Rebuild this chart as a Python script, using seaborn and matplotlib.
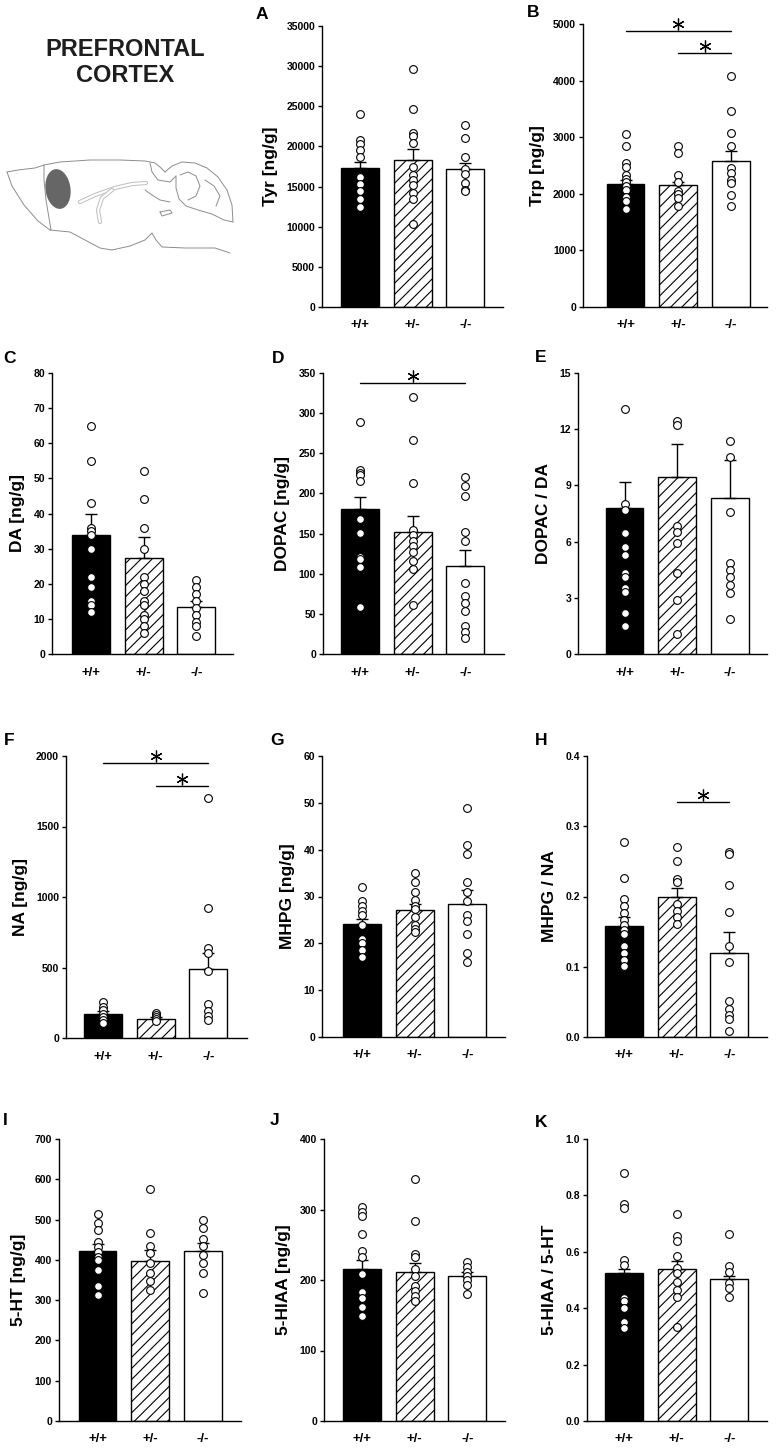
import numpy as np
import pandas as pd
import matplotlib
matplotlib.use('Agg')
import matplotlib.pyplot as plt
import matplotlib.transforms as mtransforms
from matplotlib.patches import Ellipse
import seaborn as sns

sns.set_style('ticks')
plt.rcParams['font.family'] = ['Liberation Sans', 'DejaVu Sans']
plt.rcParams['hatch.linewidth'] = 0.8
plt.rcParams['text.color'] = 'black'
plt.rcParams['axes.labelcolor'] = 'black'
plt.rcParams['xtick.color'] = 'black'
plt.rcParams['ytick.color'] = 'black'

GROUPS = ['+/+', '+/-', '-/-']

# A - Tyr
tyr_wt = [24000, 20800, 20300, 19500, 18700, 16200, 15300, 14400, 13400, 12500]
tyr_het = [29600, 24600, 21700, 21300, 20400, 17500, 16400, 15800, 15200, 14200, 13500, 10400]
tyr_ko = [22700, 21100, 18700, 17200, 16600, 15500, 14600, 14500]
tyr_mean = [17300, 18250, 17150]
tyr_sem = [700, 1400, 750]

# B - Trp
trp_wt = [3050, 2840, 2540, 2470, 2340, 2270, 2210, 2140, 2070, 1940, 1870, 1740]
trp_het = [2850, 2720, 2340, 2200, 2050, 2000, 1920, 1790]
trp_ko = [4080, 3470, 3080, 2850, 2450, 2370, 2250, 2190, 1980, 1790]
trp_mean = [2170, 2150, 2580]
trp_sem = [80, 60, 170]
trp_sig = [(0, 2, 4870), (1, 2, 4480)]

# C - DA
da_wt = [65, 55, 43, 36, 35, 34, 30, 22, 19, 15, 14, 12]
da_het = [52, 44, 36, 30, 22, 20, 18, 15, 14, 11, 10, 8, 6]
da_ko = [21, 19, 17, 15, 13, 11, 9, 8, 5]
da_mean = [34.0, 27.2, 13.5]
da_sem = [6.0, 6.2, 1.5]

# D - DOPAC
dopac_wt = [289, 229, 226, 223, 215, 168, 151, 121, 118, 108, 59]
dopac_het = [320, 267, 213, 155, 148, 141, 135, 127, 116, 106, 61]
dopac_ko = [221, 209, 197, 152, 141, 89, 72, 63, 54, 35, 27, 20]
dopac_mean = [180, 152.5, 109]
dopac_sem = [15, 20, 20]
dopac_sig = [(0, 2, 338)]

# E - DOPAC / DA
dopac_da_wt = [13.1, 8.0, 7.7, 6.45, 5.7, 5.3, 4.3, 4.1, 3.5, 3.3, 2.2, 1.5]
dopac_da_het = [12.45, 12.2, 6.85, 6.5, 5.95, 4.3, 2.9, 1.07]
dopac_da_ko = [11.35, 10.5, 7.6, 4.85, 4.5, 4.1, 3.7, 3.25, 1.85]
dopac_da_mean = [7.77, 9.44, 8.34]
dopac_da_sem = [1.4, 1.75, 2.03]

# F - NA
na_wt = [255, 220, 199, 170, 149, 130, 106]
na_het = [177, 165, 149, 135, 121]
na_ko = [1705, 925, 635, 600, 475, 240, 195, 155, 130]
na_mean = [170, 135, 489]
na_sem = [20, 12, 115]
na_sig = [(0, 2, 1950), (1, 2, 1790)]

# G - MHPG
mhpg_wt = [32, 29, 28, 27, 26, 24, 21, 20, 18.5, 17]
mhpg_het = [35, 33, 31, 29.2, 28, 27.4, 25.6, 24, 23, 22.5]
mhpg_ko = [49, 41, 39, 33, 31, 29, 26, 24.7, 22, 18, 16]
mhpg_mean = [24.2, 27.05, 28.5]
mhpg_sem = [0.9, 1.3, 2.8]

# H - MHPG / NA
mhpg_na_wt = [0.278, 0.226, 0.196, 0.186, 0.176, 0.166, 0.16, 0.153, 0.147, 0.129, 0.119, 0.11, 0.101]
mhpg_na_het = [0.27, 0.25, 0.225, 0.22, 0.19, 0.18, 0.171, 0.161]
mhpg_na_ko = [0.263, 0.26, 0.217, 0.178, 0.129, 0.107, 0.051, 0.04, 0.031, 0.026, 0.0085]
mhpg_na_mean = [0.1575, 0.1995, 0.1195]
mhpg_na_sem = [0.013, 0.012, 0.0295]
mhpg_na_sig = [(1, 2, 0.3345)]

# I - 5-HT
ht_wt = [514, 492, 474, 445, 433, 420, 408, 400, 375, 335, 314]
ht_het = [575, 466, 435, 416, 391, 368, 348, 325]
ht_ko = [500, 478, 453, 434, 412, 391, 368, 318]
ht_mean = [422, 397, 423]
ht_sem = [18, 27, 20]

# J - 5-HIAA
hiaa_wt = [303, 296, 291, 265, 241, 233, 208, 183, 175, 161, 149]
hiaa_het = [343, 284, 237, 233, 215, 205, 191, 184, 177, 170]
hiaa_ko = [225, 219, 212, 205, 200, 193, 180]
hiaa_mean = [215, 211.5, 206]
hiaa_sem = [13, 13, 5]

# K - 5-HIAA / 5-HT
hiaa_ht_wt = [0.88, 0.77, 0.757, 0.571, 0.553, 0.437, 0.427, 0.40, 0.35, 0.33]
hiaa_ht_het = [0.734, 0.657, 0.64, 0.586, 0.544, 0.524, 0.492, 0.465, 0.441, 0.332]
hiaa_ht_ko = [0.663, 0.551, 0.527, 0.488, 0.47, 0.439]
hiaa_ht_mean = [0.5235, 0.538, 0.5035]
hiaa_ht_sem = [0.015, 0.03, 0.01]

W, H = 777, 1453
fig = plt.figure(figsize=(W / 100, H / 100), dpi=100)

# (letter, ylabel, points, mean, sem, ymax, ystep, decimals, sig)
panels = [
    ('A', 'Tyr [ng/g]', (tyr_wt, tyr_het, tyr_ko), tyr_mean, tyr_sem, 35000, 5000, 0, []),
    ('B', 'Trp [ng/g]', (trp_wt, trp_het, trp_ko), trp_mean, trp_sem, 5000, 1000, 0, trp_sig),
    ('C', 'DA [ng/g]', (da_wt, da_het, da_ko), da_mean, da_sem, 80, 10, 0, []),
    ('D', 'DOPAC [ng/g]', (dopac_wt, dopac_het, dopac_ko), dopac_mean, dopac_sem, 350, 50, 0, dopac_sig),
    ('E', 'DOPAC / DA', (dopac_da_wt, dopac_da_het, dopac_da_ko), dopac_da_mean, dopac_da_sem, 15, 3, 0, []),
    ('F', 'NA [ng/g]', (na_wt, na_het, na_ko), na_mean, na_sem, 2000, 500, 0, na_sig),
    ('G', 'MHPG [ng/g]', (mhpg_wt, mhpg_het, mhpg_ko), mhpg_mean, mhpg_sem, 60, 10, 0, []),
    ('H', 'MHPG / NA', (mhpg_na_wt, mhpg_na_het, mhpg_na_ko), mhpg_na_mean, mhpg_na_sem, 0.4, 0.1, 1, mhpg_na_sig),
    ('I', '5-HT [ng/g]', (ht_wt, ht_het, ht_ko), ht_mean, ht_sem, 700, 100, 0, []),
    ('J', '5-HIAA [ng/g]', (hiaa_wt, hiaa_het, hiaa_ko), hiaa_mean, hiaa_sem, 400, 100, 0, []),
    ('K', '5-HIAA / 5-HT', (hiaa_ht_wt, hiaa_ht_het, hiaa_ht_ko), hiaa_ht_mean, hiaa_ht_sem, 1.0, 0.2, 1, []),
]

# pixel layout: axis left, top, right, bottom, first bar centre, letter x, letter y
layout = {
    'A': (322, 26, 503, 307, 360, 256, 7),
    'B': (583, 24, 767, 307, 625.5, 527, 5),
    'C': (52, 373, 233, 654, 91, 3, 351),
    'D': (323, 373, 504, 654, 360, 272, 351),
    'E': (578, 373, 767, 654, 624.5, 535, 350),
    'F': (66, 756, 247, 1038, 103, 4, 733),
    'G': (322, 756, 505, 1037, 362, 270, 733),
    'H': (587, 756, 767, 1037, 624, 535, 733),
    'I': (59, 1139, 241, 1421, 97.5, 3, 1113),
    'J': (324, 1139, 505, 1421, 362, 270, 1113),
    'K': (587, 1139, 767, 1421, 624, 535, 1115),
}
SPACING = 52.7

for letter, ylabel, pts, means, sems, ymax, ystep, dec, sig in panels:
    l, t, r, b, c0, lx, ly = layout[letter]
    ax = fig.add_axes([l / W, 1 - b / H, (r - l) / W, (b - t) / H])

    sns.barplot(x=GROUPS, y=means, ax=ax, width=0.72, color='black',
                edgecolor='black', linewidth=1.0, errorbar=None, zorder=2)
    faces = ['black', 'white', 'white']
    hatches = [None, '///', None]
    for p, fc, ht in zip(ax.patches, faces, hatches):
        p.set_facecolor(fc)
        p.set_edgecolor('black')
        if ht:
            p.set_hatch(ht)

    ax.errorbar([0, 1, 2], means, yerr=[np.zeros(3), sems], fmt='none',
                ecolor='black', elinewidth=1.0, capsize=4, capthick=1.0, zorder=3)

    df = pd.DataFrame({
        'group': sum([[g] * len(v) for g, v in zip(GROUPS, pts)], []),
        'value': sum([list(v) for v in pts], []),
    })
    sns.stripplot(data=df, x='group', y='value', order=GROUPS, jitter=False,
                  color='white', edgecolor='black', linewidth=0.8, size=5.6,
                  ax=ax, zorder=4)

    star_tr = mtransforms.offset_copy(ax.transData, fig=fig, y=7, units='dots')
    for i, j, y in sig:
        ax.plot([i, j], [y, y], color='black', lw=1.0, clip_on=False)
        ax.plot([(i + j) / 2], [y], marker=(6, 2, 0), ms=8.5, mew=0.9,
                color='black', transform=star_tr, clip_on=False)

    ax.set_xlim(-(c0 - l) / SPACING, (r - c0) / SPACING)
    ax.set_ylim(0, ymax)
    ticks = np.arange(0, ymax + ystep / 2, ystep)
    ax.set_yticks(ticks)
    ax.set_yticklabels([f'{v:.{dec}f}' for v in ticks], fontweight='bold')
    ax.set_xticks([0, 1, 2])
    ax.set_xticklabels(GROUPS, fontweight='bold')
    ax.tick_params(axis='x', length=0, pad=9, labelsize=9.5, colors='black')
    ax.tick_params(axis='y', length=3, width=1.0, pad=2, labelsize=7.5, colors='black')
    ax.set_xlabel('')
    ax.set_ylabel(ylabel, fontsize=12.5, fontweight='bold', labelpad=6, color='black')
    sns.despine(ax=ax)
    for s in ['left', 'bottom']:
        ax.spines[s].set_linewidth(1.0)
        ax.spines[s].set_color('black')

    fig.text(lx / W, 1 - ly / H, letter, fontsize=12.5, fontweight='bold',
             ha='left', va='top', color='black')

# title and brain sketch
fig.text(125 / W, 1 - 50 / H, 'PREFRONTAL', fontsize=17, fontweight='bold',
         ha='center', va='center', color='#1e1e1e')
fig.text(125 / W, 1 - 76 / H, 'CORTEX', fontsize=17, fontweight='bold',
         ha='center', va='center', color='#1e1e1e')

axb = fig.add_axes([0, 1 - 262 / H, 240 / W, 122 / H])
axb.set_xlim(0, 240)
axb.set_ylim(262, 140)
axb.axis('off')
outline = [
    [(7, 172), (18, 170), (35, 168), (44, 165), (60, 162), (90, 160), (120, 160),
     (145, 161), (155, 163), (160, 167), (165, 172)],
    [(7, 172), (12, 186), (24, 205), (38, 221), (50, 230)],
    [(44, 165), (44, 180), (46, 200), (49, 218), (51, 230)],
    [(50, 230), (70, 232), (85, 240), (100, 248), (112, 250), (130, 246), (145, 240),
     (152, 233), (156, 240), (162, 247), (185, 248), (215, 248), (230, 253)],
    [(165, 172), (172, 166), (182, 162), (195, 163), (207, 168), (218, 177),
     (227, 190), (232, 205), (233, 222)],
    [(233, 222), (224, 220), (212, 214), (198, 210), (186, 206), (179, 199), (176, 188), (176, 176)],
    [(180, 175), (188, 172), (196, 176), (200, 186), (196, 196), (188, 200)],
    [(205, 180), (214, 186), (220, 196), (216, 206)],
    [(150, 163), (152, 172), (158, 180), (170, 182), (176, 176)],
    [(145, 190), (152, 195), (160, 200), (170, 202)],
    [(160, 212), (170, 210), (172, 213), (162, 216), (160, 212)],
]
for seg in outline:
    xs, ys = zip(*seg)
    axb.plot(xs, ys, color='#8c8c8c', lw=0.7)
cc = [(80, 202), (95, 195), (115, 188), (132, 184), (146, 183)]
xs, ys = zip(*cc)
axb.plot(xs, ys, color='#bdbdbd', lw=3.0, solid_capstyle='round')
axb.plot(xs, ys, color='white', lw=1.6, solid_capstyle='round')
hp = [(112, 190), (102, 198), (98, 210), (100, 222)]
xs, ys = zip(*hp)
axb.plot(xs, ys, color='#bdbdbd', lw=3.0, solid_capstyle='round')
axb.plot(xs, ys, color='white', lw=1.6, solid_capstyle='round')
axb.add_patch(Ellipse((58, 189), 25, 40, angle=-8, facecolor='#666666', edgecolor='none'))

fig.savefig('out.png', dpi=100)
